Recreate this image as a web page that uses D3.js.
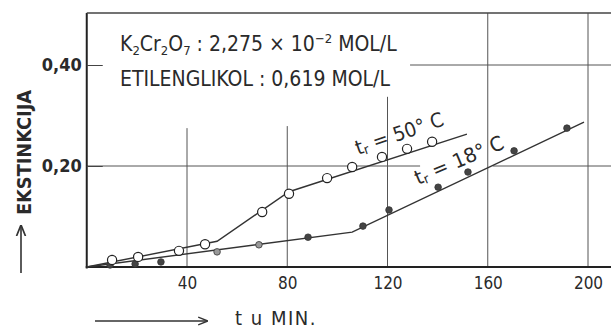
<!DOCTYPE html>
<html>
<head>
<meta charset="utf-8">
<script src="https://cdn.jsdelivr.net/npm/d3@7"></script>
<style>
  body { margin: 0; background: #fff; }
  svg { display: block; }
  text { font-family: "DejaVu Sans Condensed", "Liberation Sans Narrow", "DejaVu Sans", sans-serif; fill: #2a2a2a; }
</style>
</head>
<body>
<svg id="chart" width="611" height="329"></svg>
<script>
// time in minutes, extinction values
const t50 = [10.1, 20.5, 36.8, 47.2, 70, 80.7, 95.9, 105.9, 117.8, 127.8, 137.8];
const e50 = [0.014, 0.020, 0.032, 0.045, 0.109, 0.145, 0.176, 0.198, 0.218, 0.234, 0.248];
const t18 = [9.3, 19.3, 29.6, 52, 68.7, 88.3, 110.2, 120.6, 140.2, 152.1, 170.5, 191.6];
const e18 = [0.004, 0.006, 0.010, 0.030, 0.044, 0.059, 0.081, 0.113, 0.158, 0.188, 0.230, 0.275];

// hand drawn straight line pieces through the points
const fit50T = [0, 52, 80.7, 151.7];
const fit50E = [0, 0.051, 0.149, 0.263];
const fit18T = [0, 105.9, 198.4];
const fit18E = [0, 0.069, 0.287];

const xTicks = [40, 80, 120, 160, 200];
const yTicks = [0.20, 0.40];

const width = 611, height = 329;
const svg = d3.select("#chart");

const x = d3.scaleLinear().domain([0, 200]).range([86.75, 588]);
const y = d3.scaleLinear().domain([0, 0.4]).range([267, 65]);
const xMax = x.invert(width);
const yMax = y.invert(13);

const ink = "#333";

// grid, partly broken where the lettering sits
const vGrid = [[40, 0.275], [80, 0.279], [120, 0.337], [160, yMax], [200, yMax]];
svg.append("g").selectAll("line").data(vGrid).enter().append("line")
  .attr("x1", d => x(d[0])).attr("x2", d => x(d[0]))
  .attr("y1", d => y(d[1])).attr("y2", y(0))
  .attr("stroke", "#555").attr("stroke-width", 1);

const hGrid = [[0.20, 0, 133], [0.20, 162, xMax], [0.40, 129, xMax]];
svg.append("g").selectAll("line").data(hGrid).enter().append("line")
  .attr("x1", d => x(d[1])).attr("x2", d => x(d[2]))
  .attr("y1", d => y(d[0])).attr("y2", d => y(d[0]))
  .attr("stroke", "#555").attr("stroke-width", 1);

// frame
svg.append("line").attr("x1", x(0)).attr("x2", x(0)).attr("y1", 13).attr("y2", 268.5)
  .attr("stroke", "#222").attr("stroke-width", 2);
svg.append("line").attr("x1", x(0)).attr("x2", width).attr("y1", 13).attr("y2", 13)
  .attr("stroke", "#444").attr("stroke-width", 1.4);
svg.append("line").attr("x1", x(0) - 1).attr("x2", width).attr("y1", y(0)).attr("y2", y(0))
  .attr("stroke", "#222").attr("stroke-width", 2);

// axes (labels only, frame drawn above)
const xAxis = d3.axisBottom(x).tickValues(xTicks).tickSize(0).tickPadding(10);
const gx = svg.append("g").attr("transform", "translate(0," + y(0) + ")").call(xAxis);
gx.select(".domain").remove();
gx.selectAll("text").style("font-size", "17px").attr("fill", "#2a2a2a");

const yAxis = d3.axisLeft(y).tickValues(yTicks).tickSizeInner(-16).tickSizeOuter(0).tickPadding(5)
  .tickFormat(d => d3.format(".2f")(d).replace(".", ","));
const gy = svg.append("g").attr("transform", "translate(" + x(0) + ",0)").call(yAxis);
gy.select(".domain").remove();
gy.selectAll("line").attr("stroke", "#444");
gy.selectAll("text").style("font-size", "18px").style("font-weight", "bold").attr("fill", "#2a2a2a");

// lines
const line = d3.line().x(d => x(d[0])).y(d => y(d[1]));
svg.append("path").datum(d3.zip(fit50T, fit50E)).attr("d", line)
  .attr("fill", "none").attr("stroke", ink).attr("stroke-width", 1.4);
svg.append("path").datum(d3.zip(fit18T, fit18E)).attr("d", line)
  .attr("fill", "none").attr("stroke", ink).attr("stroke-width", 1.4);

// markers
svg.append("g").selectAll("circle").data(d3.zip(t18, e18)).enter().append("circle")
  .attr("cx", d => x(d[0])).attr("cy", d => y(d[1])).attr("r", 3.3)
  .attr("fill", (d, i) => (i === 3 || i === 4) ? "#999" : "#444")
  .attr("stroke", "#333").attr("stroke-width", 0.8);
svg.append("g").selectAll("circle").data(d3.zip(t50, e50)).enter().append("circle")
  .attr("cx", d => x(d[0])).attr("cy", d => y(d[1])).attr("r", 4.6)
  .attr("fill", "#fff").attr("stroke", "#222").attr("stroke-width", 1.2);

// curve labels
function tempLabel(px, py, angle, len, temp) {
  const t = svg.append("text")
    .attr("transform", "translate(" + px + "," + py + ") rotate(" + angle + ")")
    .style("font-size", "20px")
    .attr("textLength", len).attr("lengthAdjust", "spacingAndGlyphs");
  t.append("tspan").text("t");
  t.append("tspan").text("r").style("font-size", "13px").attr("dy", 2);
  t.append("tspan").text(" = " + temp + "° C").attr("dy", -2);
}
tempLabel(358, 155, -19, 92, 50);
tempLabel(418, 185, -23, 95, 18);

// concentration note
const note1 = svg.append("text").attr("x", 120).attr("y", 51).style("font-size", "21px");
note1.append("tspan").text("K");
note1.append("tspan").text("2").style("font-size", "13px").attr("dy", 4);
note1.append("tspan").text("Cr").attr("dy", -4);
note1.append("tspan").text("2").style("font-size", "13px").attr("dy", 4);
note1.append("tspan").text("O").attr("dy", -4);
note1.append("tspan").text("7").style("font-size", "13px").attr("dy", 4);
note1.append("tspan").text(" : 2,275 × 10").attr("dy", -4);
note1.append("tspan").text("−2").style("font-size", "13px").attr("dy", -8);
note1.append("tspan").text(" MOL/L").attr("dy", 8);

svg.append("text").attr("x", 120).attr("y", 86).style("font-size", "21px")
  .text("ETILENGLIKOL : 0,619  MOL/L");

// axis titles with arrows
svg.append("defs").append("marker").attr("id", "arr")
  .attr("viewBox", "0 0 10 10").attr("refX", 9).attr("refY", 5)
  .attr("markerWidth", 7).attr("markerHeight", 7).attr("orient", "auto")
  .append("path").attr("d", "M0,1 L10,5 L0,9").attr("fill", "none").attr("stroke", "#333").attr("stroke-width", 1.5);

svg.append("line").attr("x1", 21).attr("x2", 21).attr("y1", 273).attr("y2", 226)
  .attr("stroke", "#333").attr("stroke-width", 1.6).attr("marker-end", "url(#arr)");
svg.append("text").attr("transform", "translate(31,215) rotate(-90)")
  .style("font-size", "20px").style("font-weight", "bold")
  .attr("textLength", 125).attr("lengthAdjust", "spacingAndGlyphs")
  .text("EKSTINKCIJA");

svg.append("line").attr("x1", 95).attr("x2", 207).attr("y1", 321).attr("y2", 321)
  .attr("stroke", "#333").attr("stroke-width", 1.4).attr("marker-end", "url(#arr)");
svg.append("text").attr("x", 235).attr("y", 325).style("font-size", "20px")
  .style("letter-spacing", "1.5px")
  .text("t u MIN.");
</script>
</body>
</html>
